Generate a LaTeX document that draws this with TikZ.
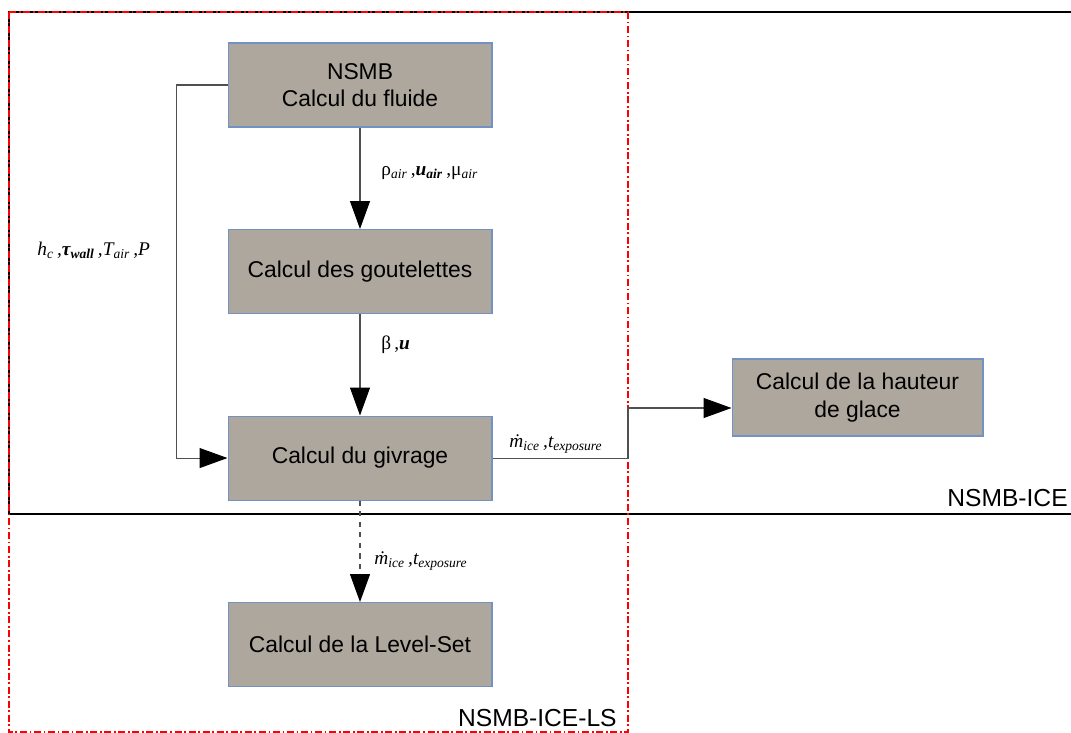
\documentclass[tikz,border=0pt]{standalone}
\usepackage{fontspec}
\setmainfont{Liberation Sans}
\newfontfamily\lserif{Liberation Serif}
\usepackage{xcolor}
\usetikzlibrary{arrows.meta,positioning}

\definecolor{boxfill}{RGB}{174,167,158}
\definecolor{boxline}{RGB}{114,146,196}
\definecolor{wire}{RGB}{80,80,80}

\newcommand{\sub}[1]{\textsubscript{\itshape #1}}

\begin{document}
\begin{tikzpicture}[
  x=0.02cm, y=-0.02cm,
  node distance=2.03cm,
  every node/.style={font=\fontsize{13}{15.5}\selectfont},
  box/.style={draw=boxline, fill=boxfill, line width=0.6pt, minimum width=5.28cm, minimum height=1.68cm, align=center, inner sep=0pt},
  lbl/.style={font=\lserif\fontsize{11}{13}\selectfont, anchor=west, inner sep=0pt},
  tag/.style={font=\fontsize{14}{16}\selectfont, anchor=south east, inner sep=0pt},
  arr/.style={-{Triangle[length=5.6mm, width=4mm, black]}, draw=wire, line width=0.6pt},
  frame/.style={line width=0.6pt}
]
\useasboundingbox (0,0) rectangle (1071,733);

% frames
\draw[frame] (9,12) rectangle (1080,514);
\draw[red, line width=1.2pt, dash pattern=on 4pt off 1.5pt on 1pt off 1.5pt] (9,12) rectangle (628,732);
\node[tag] (ice) at (1068,507) {NSMB-ICE};
\node[tag] (icels) at (617,727) {NSMB-ICE-LS};

% blocks
\node[box] (fluide) at (360,85) {NSMB\\Calcul du fluide};
\node[box, below=of fluide] (goutte) {Calcul des goutelettes};
\node[box, below=of goutte] (givre) {Calcul du givrage};
\node[box, below=of givre] (ls) {Calcul de la Level-Set};
\node[box, minimum width=5.02cm, minimum height=1.54cm] (hauteur) at (857.5,397.5) {Calcul de la hauteur\\de glace};

% connectors
\coordinate (jn) at (628,408);
\draw[arr] (fluide) -- (goutte);
\draw[arr] (goutte) -- (givre);
\draw[arr] (fluide.west) -- ++(-51,0) |- (givre.west);
\draw[arr] (givre.east) -| (jn) -- (jn -| hauteur.west);
\draw[arr, dashed] (givre) -- (ls);

% labels
\node[lbl] (l1) at (381,173) {ρ\sub{air}\,,\textbf{\itshape u}\textsubscript{\bfseries\itshape air}\,,μ\sub{air}};
\node[lbl] (l2) at (381,345) {β\,,\textbf{\itshape u}};
\node[lbl] (l3) at (37,250) {\itshape h\sub{c}\,,\textbf{τ}\textsubscript{\bfseries\itshape wall}\,,T\sub{air}\,,P};
\node[lbl] (l4) at (509,444) {\itshape \.{m}\sub{ice}\,,t\sub{exposure}};
\node[lbl] (l5) at (374,561) {\itshape \.{m}\sub{ice}\,,t\sub{exposure}};
\end{tikzpicture}
\end{document}
